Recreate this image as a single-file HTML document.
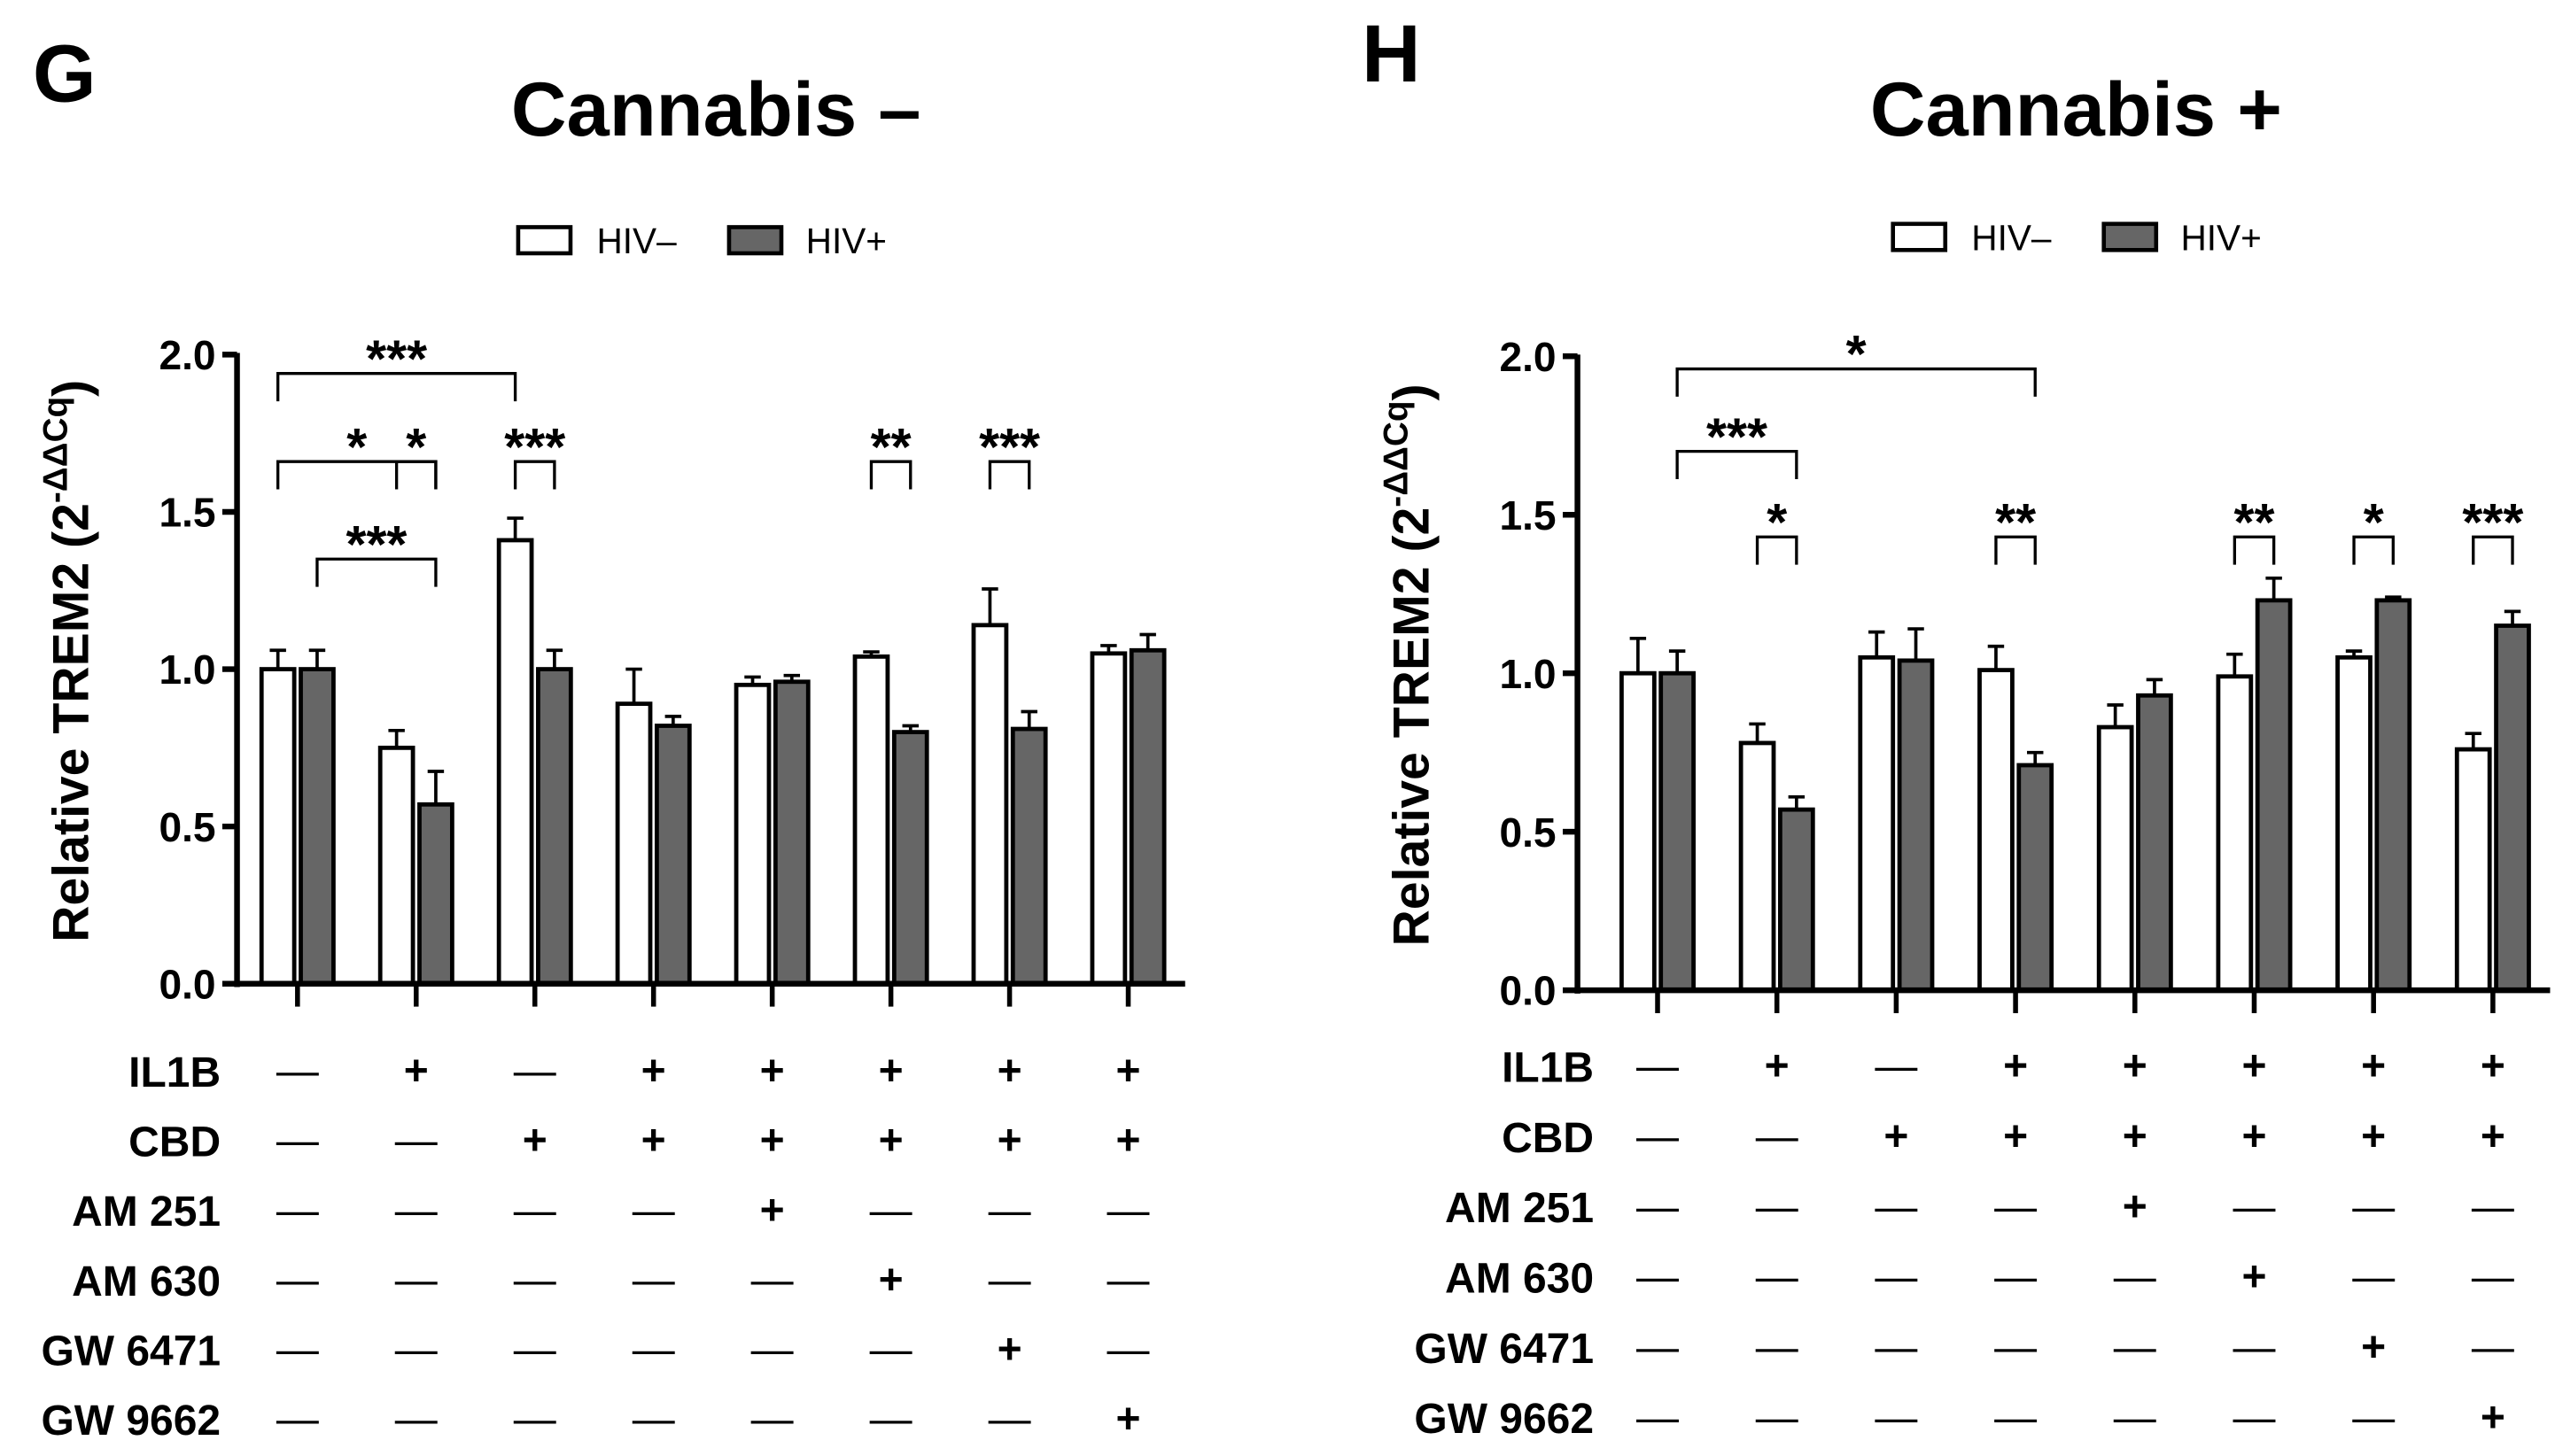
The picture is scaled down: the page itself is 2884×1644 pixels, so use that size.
<!DOCTYPE html>
<html><head><meta charset="utf-8"><style>
html,body{margin:0;padding:0;background:#fff;}
svg{display:block;font-family:"Liberation Sans",Arial,sans-serif;}
</style></head><body>
<svg id="fig" width="2884" height="1644" viewBox="0 0 1563 891" preserveAspectRatio="none" xmlns="http://www.w3.org/2000/svg">
<text x="20" y="62" font-size="50" font-weight="bold">G</text>
<text x="833" y="50" font-size="50" font-weight="bold">H</text>
<text x="438" y="83" font-size="47" font-weight="bold" text-anchor="middle">Cannabis –</text>
<text x="1270" y="83" font-size="47" font-weight="bold" text-anchor="middle">Cannabis +</text>
<g id="gG"></g>
<g id="gH"></g>
</svg>
<script>
const rowLabels = ["IL1B","CBD","AM 251","AM 630","GW 6471","GW 9662"];
const treat = [[0,1,0,1,1,1,1,1],[0,0,1,1,1,1,1,1],[0,0,0,0,1,0,0,0],[0,0,0,0,0,1,0,0],[0,0,0,0,0,0,1,0],[0,0,0,0,0,0,0,1]];
const yTicks = [0,0.5,1.0,1.5,2.0];
const yTickLabels = ["0.0","0.5","1.0","1.5","2.0"];
const gNeg = [1.0,0.75,1.41,0.89,0.95,1.04,1.14,1.05];
const gNegErr = [0.06,0.055,0.07,0.11,0.025,0.015,0.115,0.025];
const gPos = [1.0,0.57,1.0,0.82,0.96,0.80,0.81,1.06];
const gPosErr = [0.06,0.105,0.06,0.03,0.02,0.02,0.055,0.05];
const hNeg = [1.0,0.78,1.05,1.01,0.83,0.99,1.05,0.76];
const hNegErr = [0.11,0.06,0.08,0.075,0.07,0.07,0.02,0.05];
const hPos = [1.0,0.57,1.04,0.71,0.93,1.23,1.23,1.15];
const hPosErr = [0.07,0.04,0.10,0.04,0.05,0.07,0.01,0.045];
// brackets: [bar start, bar end, level value, label]; bar index = group*2 + (0 white,1 gray)
const gSig = [[0,4,1.94,"***"],[0,3,1.66,"*"],[2,3,1.66,"*"],[4,5,1.66,"***"],[1,3,1.35,"***"],[10,11,1.66,"**"],[12,13,1.66,"***"]];
const hSig = [[1,7,1.96,"*"],[1,3,1.70,"***"],[2,3,1.43,"*"],[6,7,1.43,"**"],[10,11,1.43,"**"],[12,13,1.43,"*"],[14,15,1.43,"***"]];

const NS="http://www.w3.org/2000/svg";
function mk(p,tag,attrs,txt){const e=document.createElementNS(NS,tag);for(const k in attrs)e.setAttribute(k,attrs[k]);if(txt!==undefined)e.textContent=txt;p.appendChild(e);return e;}

function draw(g,cfg){
  const y=v=>cfg.y0-(v/2)*(cfg.y0-cfg.y2);
  const gx=i=>cfg.g0+i*cfg.gs;
  const barX=b=>gx(Math.floor(b/2))+(b%2?12:-12);
  let r=mk(g,'rect',{x:cfg.lx,y:cfg.ly-8,width:32,height:16,fill:'#fff',stroke:'#000','stroke-width':2.5});
  
  let t=mk(g,'text',{x:cfg.lx+48,y:cfg.ly+8,'font-size':22},'HIV–');
  
  r=mk(g,'rect',{x:cfg.lx+129,y:cfg.ly-8,width:32,height:16,fill:'#666',stroke:'#000','stroke-width':2.5});
  
  t=mk(g,'text',{x:cfg.lx+176,y:cfg.ly+8,'font-size':22},'HIV+');
  
  t=mk(g,'text',{transform:`translate(${cfg.ax-91},${(cfg.y0+cfg.y2)/2-5}) rotate(-90)`,'text-anchor':'middle','font-size':31,'font-weight':'bold'});
  t.innerHTML='Relative TREM2 (2<tspan dy="-13" font-size="21">-ΔΔCq</tspan><tspan dy="13">)</tspan>';
  
  [[cfg.neg,cfg.negErr,'#fff',0],[cfg.pos,cfg.posErr,'#666',1]].forEach(([vals,errs,fill,s])=>{
    vals.forEach((v,i)=>{
      const cx=barX(i*2+s);
      const e=mk(g,'line',{x1:cx,x2:cx,y1:y(v),y2:y(v+errs[i]),stroke:'#000','stroke-width':2});
      
      const c=mk(g,'line',{x1:cx-5,x2:cx+5,y1:y(v+errs[i]),y2:y(v+errs[i]),stroke:'#000','stroke-width':2});
      
      const b=mk(g,'rect',{x:cx-10,y:y(v),width:20,height:y(0)-y(v),fill:fill,stroke:'#000','stroke-width':2.6});
      
    });
  });
  let a=mk(g,'line',{x1:cfg.ax,x2:cfg.ax,y1:cfg.y2-1,y2:cfg.y0+2,stroke:'#000','stroke-width':3.5});
  
  a=mk(g,'line',{x1:cfg.ax,x2:cfg.xend,y1:cfg.y0,y2:cfg.y0,stroke:'#000','stroke-width':3.5});
  
  yTicks.forEach((v,i)=>{
    const l=mk(g,'line',{x1:cfg.ax-9,x2:cfg.ax,y1:y(v),y2:y(v),stroke:'#000','stroke-width':3.5});
    
    const tl=mk(g,'text',{x:cfg.ax-13,y:y(v)+9,'text-anchor':'end','font-size':25,'font-weight':'bold'},yTickLabels[i]);
    
  });
  for(let i=0;i<8;i++){
    const l=mk(g,'line',{x1:gx(i),x2:gx(i),y1:cfg.y0,y2:cfg.y0+14,stroke:'#000','stroke-width':3});
    
  }
  cfg.sig.forEach(s=>{
    const x1=barX(s[0]),x2=barX(s[1]),yy=y(s[2]);
    const p=mk(g,'path',{d:`M${x1},${yy+17}V${yy}H${x2}V${yy+17}`,fill:'none',stroke:'#000','stroke-width':1.8});
    
    const st=mk(g,'text',{x:(x1+x2)/2,y:yy+2,'text-anchor':'middle','font-size':32,'font-weight':'bold'},s[3]);
    
  });
  rowLabels.forEach((lab,r)=>{
    const ry=cfg.ty+r*cfg.tr;
    const tl=mk(g,'text',{x:cfg.tlx,y:ry+9,'text-anchor':'end','font-size':26,'font-weight':'bold'},lab);
    
    treat[r].forEach((v,i)=>{
      const m=mk(g,'text',{x:gx(i),y:ry+8,'text-anchor':'middle','font-size':26,'font-weight':v?'bold':'normal'},v?'+':'—');
      
    });
  });
}
draw(document.getElementById('gG'),{ax:145,xend:725,y0:602,y2:217,g0:182,gs:72.6,neg:gNeg,negErr:gNegErr,pos:gPos,posErr:gPosErr,sig:gSig,lx:317,ly:147,tlx:135,ty:656,tr:42.6});
draw(document.getElementById('gH'),{ax:965,xend:1560,y0:606,y2:218,g0:1014,gs:73,neg:hNeg,negErr:hNegErr,pos:hPos,posErr:hPosErr,sig:hSig,lx:1158,ly:145,tlx:975,ty:653,tr:43});
</script>
</body></html>
